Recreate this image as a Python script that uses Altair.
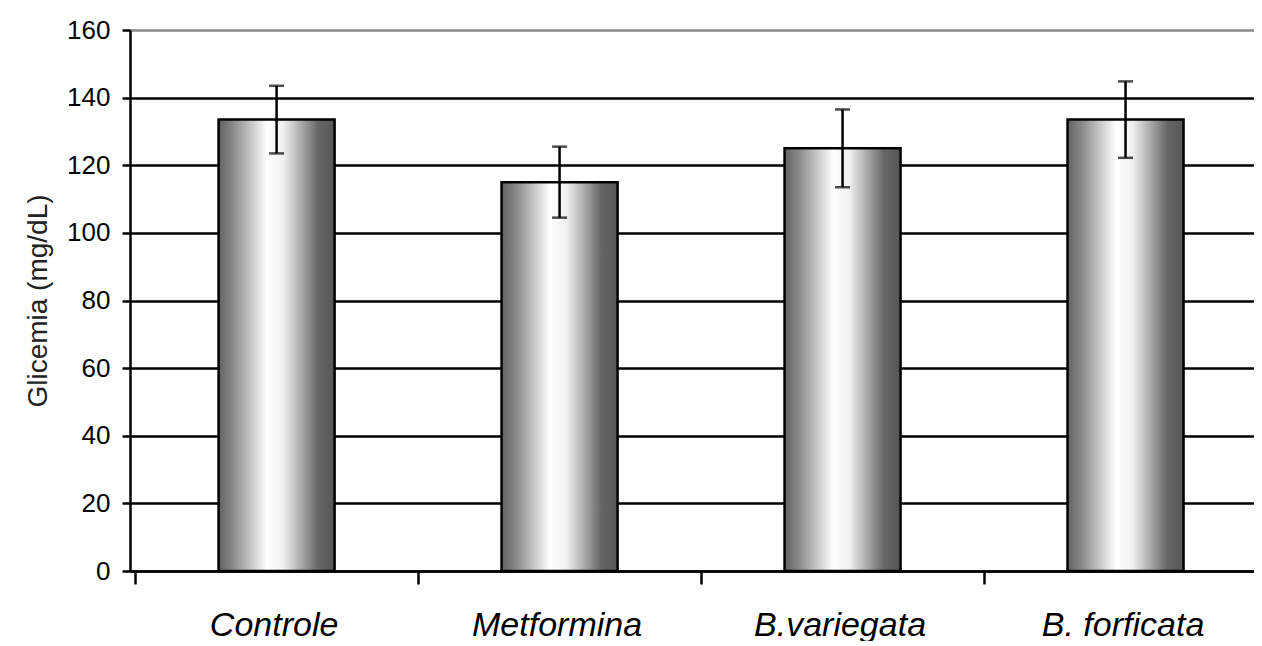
import altair as alt
import pandas as pd

categories = ["Controle", "Metformina", "B.variegata", "B. forficata"]
means = [133.5, 115.0, 125.0, 133.5]
errors = [10.0, 10.5, 11.5, 11.3]
y_ticks = [0, 20, 40, 60, 80, 100, 120, 140, 160]

df = pd.DataFrame({
    "cat": categories,
    "mean": means,
    "lo": [m - e for m, e in zip(means, errors)],
    "hi": [m + e for m, e in zip(means, errors)],
})

FONT = "Liberation Sans, Arial, Helvetica, sans-serif"
YT = "Glicemia (mg/dL)"
LW = 2.5
W = 1124
STEP = 283

gradient = alt.Gradient(
    gradient="linear",
    stops=[
        alt.GradientStop(color="#626262", offset=0),
        alt.GradientStop(color="#888888", offset=0.12),
        alt.GradientStop(color="#ffffff", offset=0.42),
        alt.GradientStop(color="#f0f0f0", offset=0.56),
        alt.GradientStop(color="#666666", offset=0.86),
        alt.GradientStop(color="#555555", offset=1),
    ],
    x1=0, x2=1, y1=0, y2=0,
)

yscale = alt.Scale(domain=[0, 160], nice=False)

base = alt.Chart(df).encode(
    x=alt.X(
        "cat:N",
        sort=categories,
        scale=alt.Scale(paddingInner=0.59, paddingOuter=0.281, align=0.557),
        axis=alt.Axis(
            title=None,
            labelAngle=0,
            labelFont=FONT,
            labelFontStyle="italic",
            labelFontSize=34,
            labelColor="black",
            labelPadding=24,
            tickSize=13,
            tickWidth=LW,
            tickColor="black",
            tickOffset=-STEP / 2,
            labelOffset=STEP / 2 - 3,
            domainColor="black",
            domainWidth=LW,
            grid=False,
        ),
    )
)

bars = base.mark_bar(color=gradient, stroke="black", strokeWidth=LW).encode(
    y=alt.Y(
        "mean:Q",
        title=YT,
        scale=yscale,
        axis=alt.Axis(
            values=y_ticks,
            labelFont=FONT,
            labelFontSize=26,
            labelColor="black",
            labelPadding=12,
            tickSize=8,
            tickWidth=LW,
            tickColor="black",
            domainColor="black",
            domainWidth=LW,
            grid=True,
            gridWidth=LW,
            gridColor={"condition": {"test": "datum.value == 160", "value": "#8a8a8a"}, "value": "black"},
            titleFont=FONT,
            titleFontSize=28,
            titleFontWeight="normal",
            titleColor="#222222",
            titlePadding=14,
        ),
    )
)

rule = base.mark_rule(color="black", strokeWidth=LW).encode(
    y=alt.Y("lo:Q", title=YT, scale=yscale), y2="hi:Q"
)
cap_top = base.mark_tick(color="black", size=15, thickness=LW).encode(
    y=alt.Y("hi:Q", title=YT, scale=yscale)
)
cap_bot = base.mark_tick(color="black", size=15, thickness=LW).encode(
    y=alt.Y("lo:Q", title=YT, scale=yscale)
)

chart = (
    alt.layer(bars, rule, cap_top, cap_bot)
    .properties(
        width=W,
        height=541,
        autosize=alt.AutoSizeParams(type="none"),
        padding={"left": 122, "top": 22, "right": 0, "bottom": 70},
        background="white",
    )
    .configure_view(stroke=None)
)

chart.save("out.html", embed_options={"renderer": "svg", "actions": False})
